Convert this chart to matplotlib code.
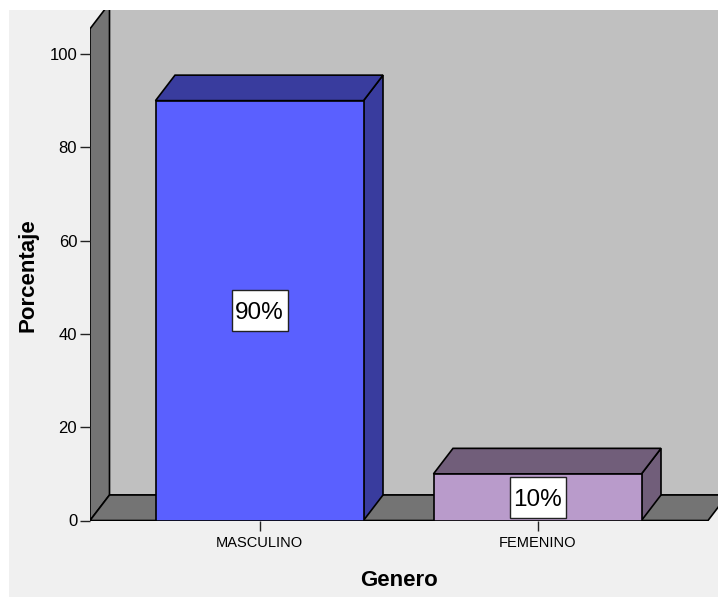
import matplotlib
matplotlib.use("Agg")
import matplotlib.pyplot as plt
from matplotlib.patches import Polygon, Rectangle
import matplotlib.transforms as mtransforms

categories = ["MASCULINO", "FEMENINO"]
values = [90, 10]
value_labels = ["90%", "10%"]
yticks = [0, 20, 40, 60, 80, 100]

front_colors = ["#5a60ff", "#b99bcb"]
dark_colors = ["#393c9e", "#715e7a"]

plt.rcParams['font.family'] = ['Liberation Sans', 'DejaVu Sans']

W, H, DPI = 718, 597, 100
fig = plt.figure(figsize=(W / DPI, H / DPI), dpi=DPI, facecolor="white")
# light background panel
fig.patches.append(Rectangle((9 / W, 0), 1 - 9 / W, (H - 10) / H, transform=fig.transFigure,
                             facecolor="#f0f0f0", edgecolor="none", zorder=-10))

# axes placement in pixels
x_left, x_right = 90, 718
y_bottom, y_top = 520.5, 10
ax = fig.add_axes([x_left / W, (H - y_bottom) / H, (x_right - x_left) / W, (y_bottom - y_top) / H])
ax.set_facecolor("none")

px_per_unit_y = 4.665
px_per_cat = 278.0
ylim_top = (y_bottom - y_top) / px_per_unit_y
xmin = (x_left - 259.5) / px_per_cat
xmax = (x_right - 259.5) / px_per_cat
ax.set_xlim(xmin, xmax)
ax.set_ylim(0, ylim_top)

DX = 19.5 / px_per_cat
DY = 25.5 / px_per_unit_y
BW = 208 / px_per_cat
L = xmin
R = (708 - 259.5) / px_per_cat
wall_top = 105.4
lw = 1.2
ec = "black"
gray = "#747474"

# back wall
ax.add_patch(Polygon([(L + DX, DY), (R + DX + 1, DY), (R + DX + 1, 200), (L + DX, 200)],
                     closed=True, facecolor="#c0c0c0", edgecolor="none", zorder=0))
ax.plot([L + DX, R + DX + 1], [DY, DY], color=ec, lw=lw, zorder=1)
# left wall
ax.add_patch(Polygon([(L, 0), (L + DX, DY), (L + DX, wall_top + DY), (L, wall_top)],
                     closed=True, facecolor=gray, edgecolor=ec, lw=lw, zorder=1))
# floor
ax.add_patch(Polygon([(L, 0), (R, 0), (R + DX, DY), (L + DX, DY)],
                     closed=True, facecolor=gray, edgecolor=ec, lw=lw, zorder=1))

for i, (cat, v) in enumerate(zip(categories, values)):
    x0 = i - BW / 2
    x1 = i + BW / 2
    ax.add_patch(Polygon([(x1, 0), (x1 + DX, DY), (x1 + DX, v + DY), (x1, v)], closed=True,
                         facecolor=dark_colors[i], edgecolor=ec, lw=lw, zorder=3))
    ax.add_patch(Polygon([(x0, v), (x1, v), (x1 + DX, v + DY), (x0 + DX, v + DY)], closed=True,
                         facecolor=dark_colors[i], edgecolor=ec, lw=lw, zorder=3))
    ax.add_patch(Rectangle((x0, 0), BW, v, facecolor=front_colors[i], edgecolor=ec, lw=lw, zorder=4))
    # value label box (fixed pixel size around label position)
    trans = fig.dpi_scale_trans + mtransforms.ScaledTranslation(i, v / 2, ax.transData)
    ax.add_patch(Rectangle((-0.28, -0.205), 0.56, 0.41, transform=trans, facecolor="white",
                           edgecolor="#222222", lw=1.0, zorder=5, clip_on=False))
    ax.text(i, v / 2, value_labels[i], ha="center", va="center_baseline", fontsize=17.5,
            color="black", zorder=6)

for s in ax.spines.values():
    s.set_visible(False)

ax.set_yticks(yticks)
ax.set_yticklabels([str(t) for t in yticks], fontsize=12, color="black")
ax.set_xticks(range(len(categories)))
ax.set_xticklabels(categories, fontsize=10.5, color="black")
ax.tick_params(axis="both", direction="out", length=7.2, width=1.0, color="#222222", pad=2)
ax.tick_params(axis="x", pad=4)

ax.set_xlabel("Genero", fontsize=16, fontweight="bold", color="black")
ax.xaxis.set_label_coords((399 - x_left) / (x_right - x_left), (y_bottom - 570) / (y_bottom - y_top))
ax.set_ylabel("Porcentaje", fontsize=16, fontweight="bold", color="black")
ax.yaxis.set_label_coords((39 - x_left) / (x_right - x_left), (y_bottom - 275) / (y_bottom - y_top))

fig.savefig("out.png", dpi=DPI, facecolor=fig.get_facecolor())
